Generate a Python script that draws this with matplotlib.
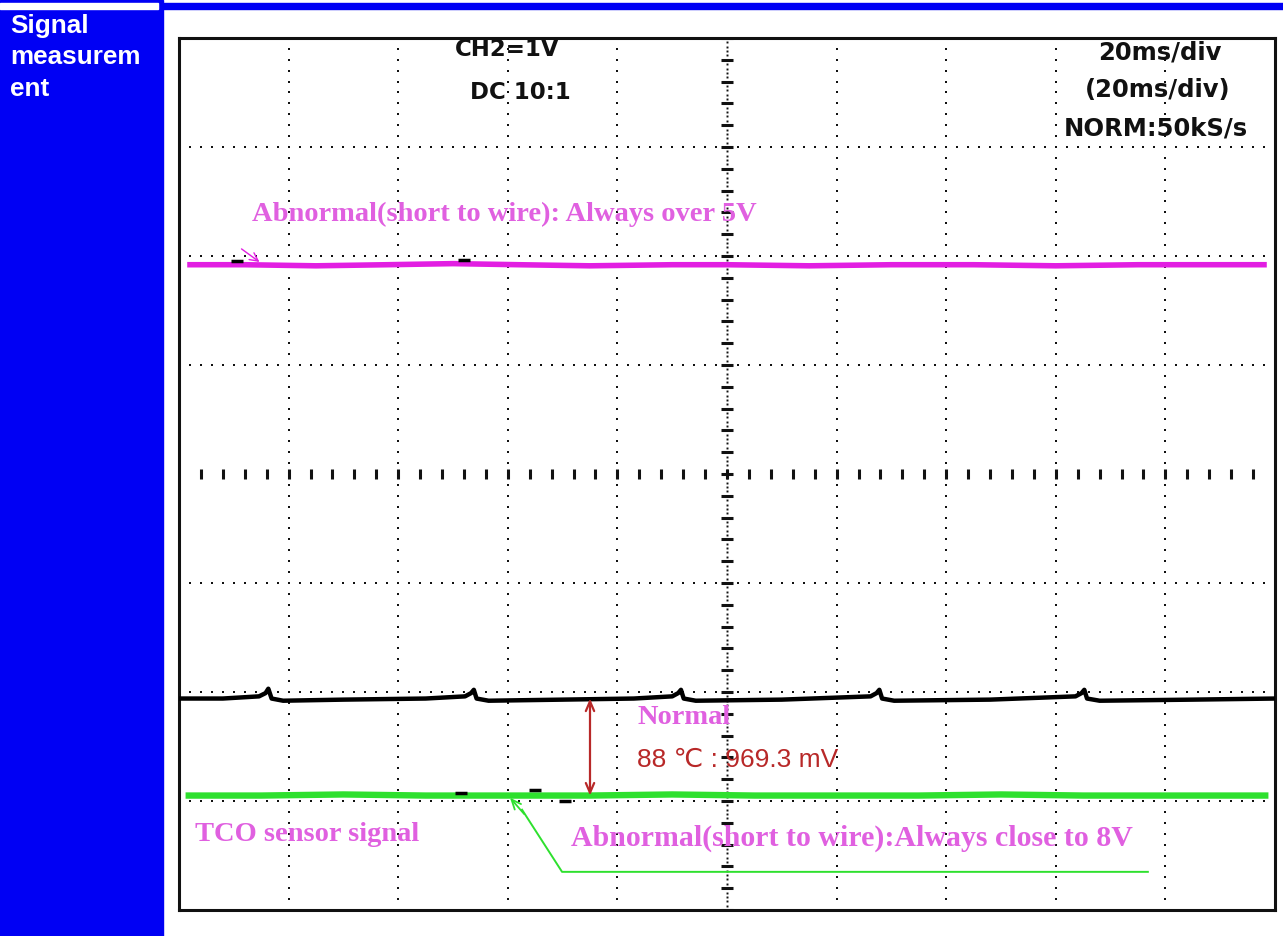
import numpy as np
import matplotlib
matplotlib.use('Agg')
import matplotlib.pyplot as plt
from matplotlib.patches import Rectangle

# scope settings: 20 ms/div x 10 div, 1 V/div x 8 div (centre = 0)
t_div = 20.0
n_xdiv = 10
n_ydiv = 8

# traces (time in ms, level in divisions)
magenta_t = [1.5, 12, 25, 38, 50, 62, 75, 90, 100, 115, 130, 145, 160, 175, 190, 198.5]
magenta_v = [1.92, 1.92, 1.91, 1.92, 1.93, 1.92, 1.91, 1.92, 1.92, 1.91, 1.92, 1.92, 1.91, 1.92, 1.92, 1.92]

black_t = [0, 8, 14.6, 15.8, 16.3, 16.9, 19.0, 30, 45, 52.2, 53.3, 53.8, 54.3, 56.5, 70, 83,
           90.0, 91.1, 91.6, 92.1, 94.3, 110, 126.2, 127.3, 127.8, 128.3, 130.5, 148,
           163.6, 164.7, 165.2, 165.7, 168.0, 185, 200]
black_v = [-2.06, -2.06, -2.04, -2.01, -1.97, -2.06, -2.08, -2.07, -2.06, -2.04, -2.01, -1.98, -2.06, -2.08,
           -2.07, -2.06, -2.04, -2.01, -1.98, -2.06, -2.08, -2.07, -2.04, -2.01, -1.98, -2.06, -2.08, -2.07,
           -2.04, -2.01, -1.98, -2.06, -2.08, -2.07, -2.06]

green_t = [1.2, 15, 30, 45, 60, 75, 90, 105, 120, 135, 150, 165, 180, 198.8]
green_v = [-2.95, -2.95, -2.94, -2.95, -2.95, -2.95, -2.94, -2.95, -2.95, -2.95, -2.94, -2.95, -2.95, -2.95]

# little black specks sitting on the coloured traces
speck_t = [10.5, 52.0, 51.5, 65.0, 70.5]
speck_v = [1.95, 1.96, -2.93, -2.90, -3.0]

# delta measurement (Normal: 88 C -> 969.3 mV)
delta_t = 75.0
delta_top = -2.06
delta_bot = -2.95

BLUE = '#0000f4'
MAG_TRACE = '#e21ee2'
MAG_TEXT = '#e060e0'
GREEN = '#2ee02e'
RED = '#b82828'
DOT = '#111111'

W, H = 1283, 936
fig = plt.figure(figsize=(W / 100, H / 100), dpi=100)

# side bar and top rule
fig.patches.append(Rectangle((0, 0), 163 / W, 1, transform=fig.transFigure, color=BLUE, zorder=0))
fig.patches.append(Rectangle((0, 1 - 9 / H), 158 / W, 6 / H, transform=fig.transFigure, color='white', zorder=1))
fig.patches.append(Rectangle((163 / W, 1 - 9 / H), 1 - 163 / W, 6 / H, transform=fig.transFigure, color=BLUE, zorder=1))
for i, word in enumerate(['Signal', 'measurem', 'ent']):
    fig.text(10 / W, 1 - (33 + 31.5 * i) / H, word, color='white', fontsize=18.8, fontweight='bold',
             family='Liberation Sans', va='baseline', ha='left')

ax = fig.add_axes([179 / W, 26 / H, 1096 / W, 872 / H])
ax.set_xlim(0, t_div * n_xdiv)
ax.set_ylim(-n_ydiv / 2, n_ydiv / 2)
ax.set_xticks([])
ax.set_yticks([])
for s in ax.spines.values():
    s.set_linewidth(2.2)
    s.set_color('#111111')

# dotted graticule
ys = np.arange(-4, 4.001, 0.1)
xs = np.arange(0, 200.001, 2)
for k in range(1, n_xdiv):
    if k == n_xdiv // 2:
        continue
    ax.plot(np.full_like(ys, k * t_div), ys, ls='none', marker='s', ms=1.9, color=DOT, mew=0)
for k in range(-3, 4):
    if k == 0:
        continue
    ax.plot(xs, np.full_like(xs, k), ls='none', marker='s', ms=1.9, color=DOT, mew=0)

# centre axes with minor ticks
yc = np.arange(-4, 4.001, 0.04)
ax.plot(np.full_like(yc, 100), yc, ls='none', marker='s', ms=1.4, color=DOT, mew=0)
yt = np.arange(-4, 4.001, 0.2)
ax.plot(np.full_like(yt, 100), yt, ls='none', marker='_', ms=8, mew=2.2, color=DOT)
xt = np.arange(4, 200, 4)
ax.plot(xt, np.zeros_like(xt), ls='none', marker='|', ms=7, mew=2.2, color=DOT)

# traces
ax.plot(magenta_t, magenta_v, color=MAG_TRACE, lw=4.0, solid_capstyle='butt', zorder=5)
ax.plot(black_t, black_v, color='black', lw=3.2, zorder=5)
ax.plot(green_t, green_v, color=GREEN, lw=4.6, solid_capstyle='butt', zorder=5)
ax.plot(speck_t, speck_v, ls='none', marker='_', ms=8, mew=2.5, color='black', zorder=6)

# scope readouts
ro = dict(family='DejaVu Sans', fontweight='bold', fontsize=16.5, color='#111111', va='center', ha='left')
ax.text(50.4, 3.89, 'CH2=1V', **ro)
ax.text(53.1, 3.50, 'DC 10:1', **ro)
ro['fontsize'] = 17.5
ax.text(167.7, 3.87, '20ms/div', **ro)
ax.text(165.3, 3.52, '(20ms/div)', **ro)
ax.text(161.5, 3.17, 'NORM:50kS/s', **ro)

# annotations
ann = dict(family='Liberation Serif', fontweight='bold', fontsize=20.5, color=MAG_TEXT, va='center', ha='left')
ax.text(13.3, 2.38, 'Abnormal(short to wire): Always over 5V', **ann)
ax.annotate('', xy=(15.1, 1.93), xytext=(11.0, 2.08),
            arrowprops=dict(arrowstyle='->,head_length=0.6,head_width=0.3', color=MAG_TRACE, lw=1.0))
ax.text(83.6, -2.23, 'Normal', **ann)
ax.text(2.9, -3.31, 'TCO sensor signal', **ann)
ann['fontsize'] = 21.5
ax.text(71.5, -3.34, 'Abnormal(short to wire):Always close to 8V', **ann)
ax.text(83.6, -2.62, '88 \u2103 : 969.3 mV', family=['Liberation Sans', 'DejaVu Sans'],
        fontsize=19, color=RED, va='center', ha='left')

ax.annotate('', xy=(delta_t, delta_top), xytext=(delta_t, delta_bot),
            arrowprops=dict(arrowstyle='<->,head_length=0.7,head_width=0.3', color=RED, lw=1.6,
                            shrinkA=0, shrinkB=0), zorder=7)

# green leader to the lower label
ax.plot([62.6, 69.9, 176.8], [-3.08, -3.65, -3.65], color=GREEN, lw=1.4, zorder=4)
ax.annotate('', xy=(60.4, -2.97), xytext=(63.0, -3.12),
            arrowprops=dict(arrowstyle='->,head_length=0.7,head_width=0.3', color=GREEN, lw=1.3,
                            shrinkA=0, shrinkB=0))

fig.savefig('out.png', dpi=100)
